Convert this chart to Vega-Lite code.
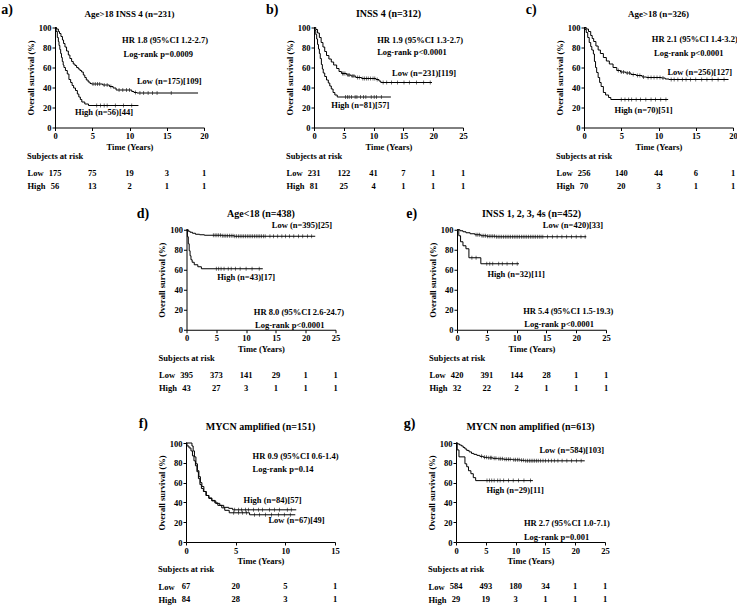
{
"$schema":"https://vega.github.io/schema/vega-lite/v6.json",
"padding":{"left":1,"top":2.5,"right":0,"bottom":0},
"background":"white",
"config":{
 "view":{"stroke":null},
 "axis":{"grid":false,"domainColor":"black","domainWidth":1,"tickColor":"black","tickWidth":1,"tickSize":3,"labelFont":"Liberation Serif","labelFontWeight":"bold","labelFontSize":8.5,"labelColor":"black","labelPadding":1,"labelFlush":false,"labelOverlap":false,"titleFont":"Liberation Serif","titleFontWeight":"bold","titleFontSize":8.5,"titleColor":"black"},
 "axisX":{"titlePadding":2},
 "axisY":{"titlePadding":3},
 "text":{"font":"Liberation Serif","fontWeight":"bold","fontSize":8.5,"color":"black","baseline":"middle"},
 "title":{"font":"Liberation Serif","fontWeight":"bold","fontSize":8.5,"color":"black","anchor":"start","frame":"bounds","offset":6}
},
"datasets":{
"km":[
{"p":"a","g":"L","t":0,"s":100},{"p":"a","g":"L","t":0.2,"s":98.5},{"p":"a","g":"L","t":0.45,"s":96},{"p":"a","g":"L","t":0.6,"s":94},{"p":"a","g":"L","t":0.8,"s":91},{"p":"a","g":"L","t":1.0,"s":87.5},{"p":"a","g":"L","t":1.15,"s":84},{"p":"a","g":"L","t":1.34,"s":80.5},{"p":"a","g":"L","t":1.55,"s":76.5},{"p":"a","g":"L","t":1.79,"s":72.5},{"p":"a","g":"L","t":2.0,"s":69},{"p":"a","g":"L","t":2.23,"s":66},{"p":"a","g":"L","t":2.45,"s":63.5},{"p":"a","g":"L","t":2.68,"s":62},{"p":"a","g":"L","t":2.9,"s":60},{"p":"a","g":"L","t":3.13,"s":58.5},{"p":"a","g":"L","t":3.35,"s":57},{"p":"a","g":"L","t":3.57,"s":55.5},{"p":"a","g":"L","t":3.8,"s":52.5},{"p":"a","g":"L","t":4.0,"s":50},{"p":"a","g":"L","t":4.2,"s":47.5},{"p":"a","g":"L","t":4.45,"s":45.5},{"p":"a","g":"L","t":4.7,"s":44},{"p":"a","g":"L","t":4.9,"s":43.5},{"p":"a","g":"L","t":6.4,"s":42.5},{"p":"a","g":"L","t":7.3,"s":41},{"p":"a","g":"L","t":7.8,"s":39.5},{"p":"a","g":"L","t":8.2,"s":37.5},{"p":"a","g":"L","t":10.3,"s":36},{"p":"a","g":"L","t":10.6,"s":35},{"p":"a","g":"L","t":11.0,"s":34.5},{"p":"a","g":"L","t":19.2,"s":34.5},
{"p":"a","g":"H","t":0,"s":100},{"p":"a","g":"H","t":0.15,"s":96},{"p":"a","g":"H","t":0.31,"s":90},{"p":"a","g":"H","t":0.45,"s":86},{"p":"a","g":"H","t":0.54,"s":82},{"p":"a","g":"H","t":0.65,"s":78},{"p":"a","g":"H","t":0.76,"s":74},{"p":"a","g":"H","t":0.87,"s":70},{"p":"a","g":"H","t":0.98,"s":66},{"p":"a","g":"H","t":1.1,"s":62.5},{"p":"a","g":"H","t":1.2,"s":60},{"p":"a","g":"H","t":1.4,"s":57},{"p":"a","g":"H","t":1.65,"s":53.5},{"p":"a","g":"H","t":1.87,"s":48},{"p":"a","g":"H","t":2.1,"s":45},{"p":"a","g":"H","t":2.3,"s":42},{"p":"a","g":"H","t":2.5,"s":39.5},{"p":"a","g":"H","t":2.75,"s":37},{"p":"a","g":"H","t":3.0,"s":33.5},{"p":"a","g":"H","t":3.2,"s":30.5},{"p":"a","g":"H","t":3.4,"s":28},{"p":"a","g":"H","t":3.6,"s":25.5},{"p":"a","g":"H","t":4.0,"s":23.5},{"p":"a","g":"H","t":4.5,"s":22},{"p":"a","g":"H","t":11.2,"s":22},
{"p":"b","g":"L","t":0,"s":100},{"p":"b","g":"L","t":0.3,"s":98},{"p":"b","g":"L","t":0.6,"s":94.5},{"p":"b","g":"L","t":0.9,"s":90},{"p":"b","g":"L","t":1.2,"s":85},{"p":"b","g":"L","t":1.5,"s":80.5},{"p":"b","g":"L","t":1.8,"s":76},{"p":"b","g":"L","t":2.1,"s":72},{"p":"b","g":"L","t":2.5,"s":68.5},{"p":"b","g":"L","t":2.9,"s":65.5},{"p":"b","g":"L","t":3.3,"s":62.5},{"p":"b","g":"L","t":3.8,"s":59},{"p":"b","g":"L","t":4.2,"s":56},{"p":"b","g":"L","t":4.6,"s":54},{"p":"b","g":"L","t":5.5,"s":52.5},{"p":"b","g":"L","t":6.2,"s":51.5},{"p":"b","g":"L","t":7.0,"s":50},{"p":"b","g":"L","t":8.0,"s":49},{"p":"b","g":"L","t":10.4,"s":48},{"p":"b","g":"L","t":10.9,"s":46.5},{"p":"b","g":"L","t":11.2,"s":45},{"p":"b","g":"L","t":19.8,"s":45},
{"p":"b","g":"H","t":0,"s":100},{"p":"b","g":"H","t":0.15,"s":97},{"p":"b","g":"H","t":0.3,"s":93},{"p":"b","g":"H","t":0.45,"s":88.5},{"p":"b","g":"H","t":0.6,"s":83},{"p":"b","g":"H","t":0.75,"s":78.5},{"p":"b","g":"H","t":0.9,"s":74},{"p":"b","g":"H","t":1.05,"s":69},{"p":"b","g":"H","t":1.24,"s":63},{"p":"b","g":"H","t":1.4,"s":58.5},{"p":"b","g":"H","t":1.55,"s":54.5},{"p":"b","g":"H","t":1.8,"s":51},{"p":"b","g":"H","t":2.1,"s":47.5},{"p":"b","g":"H","t":2.4,"s":44.5},{"p":"b","g":"H","t":2.65,"s":41.5},{"p":"b","g":"H","t":2.9,"s":38.5},{"p":"b","g":"H","t":3.2,"s":35},{"p":"b","g":"H","t":3.5,"s":32.5},{"p":"b","g":"H","t":3.9,"s":30.5},{"p":"b","g":"H","t":12.9,"s":30.5},
{"p":"c","g":"L","t":0,"s":100},{"p":"c","g":"L","t":0.3,"s":98.5},{"p":"c","g":"L","t":0.6,"s":96},{"p":"c","g":"L","t":0.9,"s":92},{"p":"c","g":"L","t":1.1,"s":89},{"p":"c","g":"L","t":1.3,"s":86},{"p":"c","g":"L","t":1.6,"s":81.5},{"p":"c","g":"L","t":1.9,"s":77.5},{"p":"c","g":"L","t":2.2,"s":74},{"p":"c","g":"L","t":2.6,"s":70},{"p":"c","g":"L","t":3.0,"s":66.5},{"p":"c","g":"L","t":3.4,"s":63.5},{"p":"c","g":"L","t":3.9,"s":60},{"p":"c","g":"L","t":4.4,"s":57},{"p":"c","g":"L","t":4.9,"s":55.5},{"p":"c","g":"L","t":5.6,"s":54.5},{"p":"c","g":"L","t":6.3,"s":53},{"p":"c","g":"L","t":7.0,"s":52},{"p":"c","g":"L","t":7.8,"s":50.5},{"p":"c","g":"L","t":8.4,"s":50},{"p":"c","g":"L","t":10.4,"s":49.5},{"p":"c","g":"L","t":10.9,"s":48.5},{"p":"c","g":"L","t":11.4,"s":48},{"p":"c","g":"L","t":19.4,"s":48},
{"p":"c","g":"H","t":0,"s":100},{"p":"c","g":"H","t":0.15,"s":98},{"p":"c","g":"H","t":0.3,"s":95},{"p":"c","g":"H","t":0.5,"s":90},{"p":"c","g":"H","t":0.7,"s":85},{"p":"c","g":"H","t":0.9,"s":81},{"p":"c","g":"H","t":1.05,"s":77.5},{"p":"c","g":"H","t":1.26,"s":73.5},{"p":"c","g":"H","t":1.4,"s":66},{"p":"c","g":"H","t":1.55,"s":60},{"p":"c","g":"H","t":1.7,"s":55},{"p":"c","g":"H","t":1.9,"s":50},{"p":"c","g":"H","t":2.1,"s":45},{"p":"c","g":"H","t":2.3,"s":41},{"p":"c","g":"H","t":2.6,"s":35},{"p":"c","g":"H","t":2.9,"s":32.5},{"p":"c","g":"H","t":3.3,"s":30},{"p":"c","g":"H","t":3.6,"s":28},{"p":"c","g":"H","t":11.3,"s":28},
{"p":"d","g":"L","t":0,"s":100},{"p":"d","g":"L","t":0.3,"s":98.5},{"p":"d","g":"L","t":0.6,"s":97.5},{"p":"d","g":"L","t":1.0,"s":96.5},{"p":"d","g":"L","t":1.5,"s":95.5},{"p":"d","g":"L","t":2.2,"s":95},{"p":"d","g":"L","t":3.0,"s":94.5},{"p":"d","g":"L","t":6.0,"s":94},{"p":"d","g":"L","t":8.0,"s":93.5},{"p":"d","g":"L","t":21.6,"s":93.5},
{"p":"d","g":"H","t":0,"s":100},{"p":"d","g":"H","t":0.15,"s":93},{"p":"d","g":"H","t":0.3,"s":86},{"p":"d","g":"H","t":0.45,"s":79},{"p":"d","g":"H","t":0.6,"s":74},{"p":"d","g":"H","t":0.75,"s":70},{"p":"d","g":"H","t":0.95,"s":67.5},{"p":"d","g":"H","t":1.3,"s":65},{"p":"d","g":"H","t":1.9,"s":63},{"p":"d","g":"H","t":2.5,"s":61},{"p":"d","g":"H","t":12.8,"s":61},
{"p":"e","g":"L","t":0,"s":100},{"p":"e","g":"L","t":0.5,"s":99},{"p":"e","g":"L","t":1.0,"s":98},{"p":"e","g":"L","t":1.5,"s":97},{"p":"e","g":"L","t":2.2,"s":96},{"p":"e","g":"L","t":3.0,"s":95},{"p":"e","g":"L","t":4.0,"s":94},{"p":"e","g":"L","t":5.0,"s":93.5},{"p":"e","g":"L","t":6.5,"s":93},{"p":"e","g":"L","t":21.7,"s":93},
{"p":"e","g":"H","t":0,"s":100},{"p":"e","g":"H","t":0.3,"s":94},{"p":"e","g":"H","t":0.6,"s":88},{"p":"e","g":"H","t":1.0,"s":84},{"p":"e","g":"H","t":1.5,"s":81},{"p":"e","g":"H","t":2.0,"s":72},{"p":"e","g":"H","t":4.0,"s":66},{"p":"e","g":"H","t":10.4,"s":66},
{"p":"f","g":"H","t":0,"s":100},{"p":"f","g":"H","t":0.1,"s":97},{"p":"f","g":"H","t":0.3,"s":95},{"p":"f","g":"H","t":0.5,"s":92},{"p":"f","g":"H","t":0.65,"s":87},{"p":"f","g":"H","t":0.8,"s":82},{"p":"f","g":"H","t":0.95,"s":77},{"p":"f","g":"H","t":1.1,"s":71},{"p":"f","g":"H","t":1.25,"s":64},{"p":"f","g":"H","t":1.4,"s":58},{"p":"f","g":"H","t":1.55,"s":54},{"p":"f","g":"H","t":1.75,"s":51},{"p":"f","g":"H","t":2.0,"s":47},{"p":"f","g":"H","t":2.3,"s":44},{"p":"f","g":"H","t":2.6,"s":41.5},{"p":"f","g":"H","t":3.0,"s":39},{"p":"f","g":"H","t":3.4,"s":37},{"p":"f","g":"H","t":3.8,"s":35},{"p":"f","g":"H","t":4.3,"s":34},{"p":"f","g":"H","t":4.7,"s":32.5},{"p":"f","g":"H","t":11.1,"s":32.5},
{"p":"f","g":"L","t":0,"s":100},{"p":"f","g":"L","t":0.6,"s":97},{"p":"f","g":"L","t":0.72,"s":92},{"p":"f","g":"L","t":0.85,"s":86},{"p":"f","g":"L","t":1.0,"s":79},{"p":"f","g":"L","t":1.15,"s":72},{"p":"f","g":"L","t":1.3,"s":66},{"p":"f","g":"L","t":1.45,"s":60},{"p":"f","g":"L","t":1.6,"s":56},{"p":"f","g":"L","t":1.8,"s":51},{"p":"f","g":"L","t":2.05,"s":47},{"p":"f","g":"L","t":2.3,"s":44.5},{"p":"f","g":"L","t":2.6,"s":42},{"p":"f","g":"L","t":2.9,"s":39.5},{"p":"f","g":"L","t":3.2,"s":37},{"p":"f","g":"L","t":3.6,"s":34.5},{"p":"f","g":"L","t":3.9,"s":32},{"p":"f","g":"L","t":4.35,"s":29.5},{"p":"f","g":"L","t":6.4,"s":27.5},{"p":"f","g":"L","t":11.0,"s":27.5},
{"p":"g","g":"L","t":0,"s":100},{"p":"g","g":"L","t":0.3,"s":99},{"p":"g","g":"L","t":0.6,"s":98},{"p":"g","g":"L","t":0.9,"s":97},{"p":"g","g":"L","t":1.2,"s":95.5},{"p":"g","g":"L","t":1.5,"s":94},{"p":"g","g":"L","t":1.8,"s":92.5},{"p":"g","g":"L","t":2.2,"s":91},{"p":"g","g":"L","t":2.6,"s":89.5},{"p":"g","g":"L","t":3.0,"s":88.5},{"p":"g","g":"L","t":3.5,"s":87.5},{"p":"g","g":"L","t":4.0,"s":86.5},{"p":"g","g":"L","t":4.6,"s":85.5},{"p":"g","g":"L","t":5.3,"s":85},{"p":"g","g":"L","t":6.2,"s":84.5},{"p":"g","g":"L","t":7.0,"s":84},{"p":"g","g":"L","t":8.0,"s":83.5},{"p":"g","g":"L","t":9.5,"s":83},{"p":"g","g":"L","t":10.8,"s":82.5},{"p":"g","g":"L","t":11.5,"s":82},{"p":"g","g":"L","t":21.6,"s":82},
{"p":"g","g":"H","t":0,"s":100},{"p":"g","g":"H","t":0.2,"s":93},{"p":"g","g":"H","t":0.5,"s":86},{"p":"g","g":"H","t":1.5,"s":79},{"p":"g","g":"H","t":1.8,"s":76},{"p":"g","g":"H","t":2.1,"s":72},{"p":"g","g":"H","t":2.5,"s":69},{"p":"g","g":"H","t":2.9,"s":65},{"p":"g","g":"H","t":3.3,"s":62},{"p":"g","g":"H","t":12.9,"s":62}
],
"cens":[
{"p":"a","t":5.1,"s":43.5},{"p":"a","t":5.4,"s":43.5},{"p":"a","t":5.7,"s":43.5},{"p":"a","t":6.0,"s":43.5},{"p":"a","t":6.6,"s":42.5},{"p":"a","t":7.0,"s":42.5},{"p":"a","t":7.5,"s":41},{"p":"a","t":8.6,"s":37.5},{"p":"a","t":9.1,"s":37.5},{"p":"a","t":9.6,"s":37.5},{"p":"a","t":10.0,"s":37.5},{"p":"a","t":10.8,"s":35},{"p":"a","t":11.4,"s":34.5},{"p":"a","t":11.9,"s":34.5},{"p":"a","t":12.5,"s":34.5},{"p":"a","t":13.1,"s":34.5},{"p":"a","t":13.7,"s":34.5},{"p":"a","t":15.6,"s":34.5},
{"p":"a","t":5.6,"s":22},{"p":"a","t":6.1,"s":22},{"p":"a","t":6.6,"s":22},{"p":"a","t":7.0,"s":22},{"p":"a","t":8.1,"s":22},{"p":"a","t":9.2,"s":22},{"p":"a","t":10.3,"s":22},
{"p":"b","t":4.8,"s":54},{"p":"b","t":5.0,"s":54},{"p":"b","t":5.2,"s":54},{"p":"b","t":5.7,"s":52.5},{"p":"b","t":5.9,"s":52.5},{"p":"b","t":6.4,"s":51.5},{"p":"b","t":6.7,"s":51.5},{"p":"b","t":7.3,"s":50},{"p":"b","t":7.6,"s":50},{"p":"b","t":8.2,"s":49},{"p":"b","t":8.5,"s":49},{"p":"b","t":8.8,"s":49},{"p":"b","t":9.1,"s":49},{"p":"b","t":9.5,"s":49},{"p":"b","t":9.9,"s":49},{"p":"b","t":10.2,"s":49},{"p":"b","t":10.6,"s":48},{"p":"b","t":11.6,"s":45},{"p":"b","t":12.2,"s":45},{"p":"b","t":13.0,"s":45},{"p":"b","t":14.0,"s":45},{"p":"b","t":15.1,"s":45},{"p":"b","t":16.0,"s":45},{"p":"b","t":17.2,"s":45},{"p":"b","t":18.4,"s":45},{"p":"b","t":19.5,"s":45},
{"p":"b","t":5.3,"s":30.5},{"p":"b","t":5.6,"s":30.5},{"p":"b","t":5.9,"s":30.5},{"p":"b","t":6.3,"s":30.5},{"p":"b","t":6.9,"s":30.5},{"p":"b","t":7.2,"s":30.5},{"p":"b","t":7.8,"s":30.5},{"p":"b","t":8.3,"s":30.5},{"p":"b","t":8.7,"s":30.5},{"p":"b","t":9.6,"s":30.5},{"p":"b","t":10.1,"s":30.5},{"p":"b","t":10.5,"s":30.5},{"p":"b","t":11.3,"s":30.5},
{"p":"c","t":4.6,"s":57},{"p":"c","t":5.0,"s":55.5},{"p":"c","t":5.3,"s":55.5},{"p":"c","t":5.8,"s":54.5},{"p":"c","t":6.1,"s":54.5},{"p":"c","t":6.6,"s":53},{"p":"c","t":7.2,"s":52},{"p":"c","t":7.5,"s":52},{"p":"c","t":8.0,"s":50.5},{"p":"c","t":8.6,"s":50},{"p":"c","t":9.0,"s":50},{"p":"c","t":9.4,"s":50},{"p":"c","t":9.8,"s":50},{"p":"c","t":10.2,"s":50},{"p":"c","t":10.6,"s":49.5},{"p":"c","t":11.7,"s":48},{"p":"c","t":12.1,"s":48},{"p":"c","t":12.6,"s":48},{"p":"c","t":13.2,"s":48},{"p":"c","t":13.7,"s":48},{"p":"c","t":14.3,"s":48},{"p":"c","t":15.0,"s":48},{"p":"c","t":15.8,"s":48},{"p":"c","t":16.5,"s":48},{"p":"c","t":17.2,"s":48},{"p":"c","t":18.0,"s":48},{"p":"c","t":18.8,"s":48},
{"p":"c","t":5.0,"s":28},{"p":"c","t":5.5,"s":28},{"p":"c","t":6.0,"s":28},{"p":"c","t":6.4,"s":28},{"p":"c","t":7.0,"s":28},{"p":"c","t":7.6,"s":28},{"p":"c","t":8.3,"s":28},{"p":"c","t":9.0,"s":28},{"p":"c","t":9.6,"s":28},{"p":"c","t":10.3,"s":28},{"p":"c","t":11.0,"s":28},
{"p":"d","t":4.5,"s":94.5},{"p":"d","t":4.8,"s":94.5},{"p":"d","t":5.1,"s":94.5},{"p":"d","t":5.4,"s":94.5},{"p":"d","t":5.7,"s":94.5},{"p":"d","t":6.0,"s":94},{"p":"d","t":6.3,"s":94},{"p":"d","t":6.6,"s":94},{"p":"d","t":6.9,"s":94},{"p":"d","t":7.2,"s":94},{"p":"d","t":7.5,"s":94},{"p":"d","t":7.8,"s":94},{"p":"d","t":8.1,"s":93.5},{"p":"d","t":8.4,"s":93.5},{"p":"d","t":8.7,"s":93.5},{"p":"d","t":9.0,"s":93.5},{"p":"d","t":9.3,"s":93.5},{"p":"d","t":9.6,"s":93.5},{"p":"d","t":9.9,"s":93.5},{"p":"d","t":10.2,"s":93.5},{"p":"d","t":10.5,"s":93.5},{"p":"d","t":10.8,"s":93.5},{"p":"d","t":11.1,"s":93.5},{"p":"d","t":11.4,"s":93.5},{"p":"d","t":11.7,"s":93.5},{"p":"d","t":12.0,"s":93.5},{"p":"d","t":12.3,"s":93.5},{"p":"d","t":12.6,"s":93.5},{"p":"d","t":12.9,"s":93.5},{"p":"d","t":13.2,"s":93.5},{"p":"d","t":14.0,"s":93.5},{"p":"d","t":14.6,"s":93.5},{"p":"d","t":15.3,"s":93.5},{"p":"d","t":16.0,"s":93.5},{"p":"d","t":16.6,"s":93.5},{"p":"d","t":17.3,"s":93.5},{"p":"d","t":18.0,"s":93.5},{"p":"d","t":18.8,"s":93.5},{"p":"d","t":19.5,"s":93.5},{"p":"d","t":20.3,"s":93.5},{"p":"d","t":21.0,"s":93.5},
{"p":"d","t":5.0,"s":61},{"p":"d","t":5.4,"s":61},{"p":"d","t":5.8,"s":61},{"p":"d","t":6.3,"s":61},{"p":"d","t":7.0,"s":61},{"p":"d","t":7.5,"s":61},{"p":"d","t":8.2,"s":61},{"p":"d","t":9.0,"s":61},{"p":"d","t":10.0,"s":61},{"p":"d","t":11.0,"s":61},{"p":"d","t":12.2,"s":61},
{"p":"e","t":3.2,"s":95},{"p":"e","t":3.5,"s":95},{"p":"e","t":3.8,"s":95},{"p":"e","t":4.2,"s":94},{"p":"e","t":4.5,"s":94},{"p":"e","t":4.8,"s":94},{"p":"e","t":5.1,"s":93.5},{"p":"e","t":5.4,"s":93.5},{"p":"e","t":5.7,"s":93.5},{"p":"e","t":6.0,"s":93.5},{"p":"e","t":6.3,"s":93.5},{"p":"e","t":6.6,"s":93},{"p":"e","t":6.9,"s":93},{"p":"e","t":7.2,"s":93},{"p":"e","t":7.5,"s":93},{"p":"e","t":7.8,"s":93},{"p":"e","t":8.1,"s":93},{"p":"e","t":8.4,"s":93},{"p":"e","t":8.7,"s":93},{"p":"e","t":9.0,"s":93},{"p":"e","t":9.3,"s":93},{"p":"e","t":9.6,"s":93},{"p":"e","t":9.9,"s":93},{"p":"e","t":10.2,"s":93},{"p":"e","t":10.5,"s":93},{"p":"e","t":10.8,"s":93},{"p":"e","t":11.1,"s":93},{"p":"e","t":11.4,"s":93},{"p":"e","t":11.7,"s":93},{"p":"e","t":12.0,"s":93},{"p":"e","t":12.3,"s":93},{"p":"e","t":12.6,"s":93},{"p":"e","t":12.9,"s":93},{"p":"e","t":13.2,"s":93},{"p":"e","t":13.5,"s":93},{"p":"e","t":13.8,"s":93},{"p":"e","t":14.1,"s":93},{"p":"e","t":14.4,"s":93},{"p":"e","t":15.2,"s":93},{"p":"e","t":16.0,"s":93},{"p":"e","t":16.8,"s":93},{"p":"e","t":17.6,"s":93},{"p":"e","t":18.4,"s":93},{"p":"e","t":19.2,"s":93},{"p":"e","t":20.0,"s":93},{"p":"e","t":20.8,"s":93},{"p":"e","t":21.5,"s":93},
{"p":"e","t":2.5,"s":72},{"p":"e","t":3.2,"s":72},{"p":"e","t":5.0,"s":66},{"p":"e","t":5.5,"s":66},{"p":"e","t":6.0,"s":66},{"p":"e","t":7.0,"s":66},{"p":"e","t":7.6,"s":66},{"p":"e","t":8.4,"s":66},{"p":"e","t":9.3,"s":66},{"p":"e","t":10.1,"s":66},
{"p":"f","t":4.9,"s":32.5},{"p":"f","t":5.3,"s":32.5},{"p":"f","t":5.6,"s":32.5},{"p":"f","t":6.0,"s":32.5},{"p":"f","t":6.3,"s":32.5},{"p":"f","t":6.8,"s":32.5},{"p":"f","t":7.3,"s":32.5},{"p":"f","t":7.7,"s":32.5},{"p":"f","t":8.4,"s":32.5},{"p":"f","t":8.9,"s":32.5},{"p":"f","t":9.4,"s":32.5},{"p":"f","t":10.2,"s":32.5},{"p":"f","t":10.6,"s":32.5},
{"p":"f","t":4.8,"s":29.5},{"p":"f","t":5.3,"s":29.5},{"p":"f","t":5.7,"s":29.5},{"p":"f","t":6.1,"s":29.5},{"p":"f","t":6.9,"s":27.5},{"p":"f","t":7.4,"s":27.5},{"p":"f","t":8.0,"s":27.5},{"p":"f","t":8.6,"s":27.5},{"p":"f","t":9.3,"s":27.5},{"p":"f","t":9.9,"s":27.5},{"p":"f","t":10.5,"s":27.5},
{"p":"g","t":4.3,"s":86.5},{"p":"g","t":4.8,"s":85.5},{"p":"g","t":5.1,"s":85.5},{"p":"g","t":5.5,"s":85},{"p":"g","t":5.8,"s":85},{"p":"g","t":6.0,"s":85},{"p":"g","t":6.4,"s":84.5},{"p":"g","t":6.7,"s":84.5},{"p":"g","t":7.2,"s":84},{"p":"g","t":7.5,"s":84},{"p":"g","t":7.8,"s":84},{"p":"g","t":8.2,"s":83.5},{"p":"g","t":8.5,"s":83.5},{"p":"g","t":8.8,"s":83.5},{"p":"g","t":9.1,"s":83.5},{"p":"g","t":9.7,"s":83},{"p":"g","t":10.0,"s":83},{"p":"g","t":10.3,"s":83},{"p":"g","t":10.6,"s":83},{"p":"g","t":11.0,"s":82.5},{"p":"g","t":11.3,"s":82.5},{"p":"g","t":11.7,"s":82},{"p":"g","t":12.0,"s":82},{"p":"g","t":12.3,"s":82},{"p":"g","t":12.6,"s":82},{"p":"g","t":12.9,"s":82},{"p":"g","t":13.2,"s":82},{"p":"g","t":13.5,"s":82},{"p":"g","t":13.8,"s":82},{"p":"g","t":14.2,"s":82},{"p":"g","t":14.6,"s":82},{"p":"g","t":15.0,"s":82},{"p":"g","t":15.5,"s":82},{"p":"g","t":16.0,"s":82},{"p":"g","t":16.5,"s":82},{"p":"g","t":17.1,"s":82},{"p":"g","t":17.8,"s":82},{"p":"g","t":18.6,"s":82},{"p":"g","t":19.4,"s":82},{"p":"g","t":20.2,"s":82},{"p":"g","t":21.0,"s":82},
{"p":"g","t":5.2,"s":62},{"p":"g","t":5.6,"s":62},{"p":"g","t":6.0,"s":62},{"p":"g","t":6.4,"s":62},{"p":"g","t":7.0,"s":62},{"p":"g","t":7.4,"s":62},{"p":"g","t":8.0,"s":62},{"p":"g","t":8.8,"s":62},{"p":"g","t":9.6,"s":62},{"p":"g","t":10.5,"s":62},{"p":"g","t":11.4,"s":62},{"p":"g","t":12.5,"s":62}
],
"risk":[
{"p":"a","g":"Low","t":0,"n":"175"},{"p":"a","g":"Low","t":5,"n":"75"},{"p":"a","g":"Low","t":10,"n":"19"},{"p":"a","g":"Low","t":15,"n":"3"},{"p":"a","g":"Low","t":20,"n":"1"},
{"p":"a","g":"High","t":0,"n":"56"},{"p":"a","g":"High","t":5,"n":"13"},{"p":"a","g":"High","t":10,"n":"2"},{"p":"a","g":"High","t":15,"n":"1"},{"p":"a","g":"High","t":20,"n":"1"},
{"p":"b","g":"Low","t":0,"n":"231"},{"p":"b","g":"Low","t":5,"n":"122"},{"p":"b","g":"Low","t":10,"n":"41"},{"p":"b","g":"Low","t":15,"n":"7"},{"p":"b","g":"Low","t":20,"n":"1"},{"p":"b","g":"Low","t":25,"n":"1"},
{"p":"b","g":"High","t":0,"n":"81"},{"p":"b","g":"High","t":5,"n":"25"},{"p":"b","g":"High","t":10,"n":"4"},{"p":"b","g":"High","t":15,"n":"1"},{"p":"b","g":"High","t":20,"n":"1"},{"p":"b","g":"High","t":25,"n":"1"},
{"p":"c","g":"Low","t":0,"n":"256"},{"p":"c","g":"Low","t":5,"n":"140"},{"p":"c","g":"Low","t":10,"n":"44"},{"p":"c","g":"Low","t":15,"n":"6"},{"p":"c","g":"Low","t":20,"n":"1"},
{"p":"c","g":"High","t":0,"n":"70"},{"p":"c","g":"High","t":5,"n":"20"},{"p":"c","g":"High","t":10,"n":"3"},{"p":"c","g":"High","t":15,"n":"1"},{"p":"c","g":"High","t":20,"n":"1"},
{"p":"d","g":"Low","t":0,"n":"395"},{"p":"d","g":"Low","t":5,"n":"373"},{"p":"d","g":"Low","t":10,"n":"141"},{"p":"d","g":"Low","t":15,"n":"29"},{"p":"d","g":"Low","t":20,"n":"1"},{"p":"d","g":"Low","t":25,"n":"1"},
{"p":"d","g":"High","t":0,"n":"43"},{"p":"d","g":"High","t":5,"n":"27"},{"p":"d","g":"High","t":10,"n":"3"},{"p":"d","g":"High","t":15,"n":"1"},{"p":"d","g":"High","t":20,"n":"1"},{"p":"d","g":"High","t":25,"n":"1"},
{"p":"e","g":"Low","t":0,"n":"420"},{"p":"e","g":"Low","t":5,"n":"391"},{"p":"e","g":"Low","t":10,"n":"144"},{"p":"e","g":"Low","t":15,"n":"28"},{"p":"e","g":"Low","t":20,"n":"1"},{"p":"e","g":"Low","t":25,"n":"1"},
{"p":"e","g":"High","t":0,"n":"32"},{"p":"e","g":"High","t":5,"n":"22"},{"p":"e","g":"High","t":10,"n":"2"},{"p":"e","g":"High","t":15,"n":"1"},{"p":"e","g":"High","t":20,"n":"1"},{"p":"e","g":"High","t":25,"n":"1"},
{"p":"f","g":"Low","t":0,"n":"67"},{"p":"f","g":"Low","t":5,"n":"20"},{"p":"f","g":"Low","t":10,"n":"5"},{"p":"f","g":"Low","t":15,"n":"1"},
{"p":"f","g":"High","t":0,"n":"84"},{"p":"f","g":"High","t":5,"n":"28"},{"p":"f","g":"High","t":10,"n":"3"},{"p":"f","g":"High","t":15,"n":"1"},
{"p":"g","g":"Low","t":0,"n":"584"},{"p":"g","g":"Low","t":5,"n":"493"},{"p":"g","g":"Low","t":10,"n":"180"},{"p":"g","g":"Low","t":15,"n":"34"},{"p":"g","g":"Low","t":20,"n":"1"},{"p":"g","g":"Low","t":25,"n":"1"},
{"p":"g","g":"High","t":0,"n":"29"},{"p":"g","g":"High","t":5,"n":"19"},{"p":"g","g":"High","t":10,"n":"3"},{"p":"g","g":"High","t":15,"n":"1"},{"p":"g","g":"High","t":20,"n":"1"},{"p":"g","g":"High","t":25,"n":"1"}
]
},
"spacing":14.25,
"center":false,
"vconcat":[
{"hconcat":[
 {"vconcat":[
  {"width":149,"height":100,"layer":[
   {"data":{"name":"km"},"transform":[{"filter":"datum.p=='a'"}],"mark":{"type":"line","interpolate":"step-after","color":"black","strokeWidth":1},"encoding":{"x":{"field":"t","type":"quantitative","scale":{"domain":[0,20],"nice":false},"axis":{"values":[0,5,10,15,20],"title":"Time (Years)"}},"y":{"field":"s","type":"quantitative","scale":{"domain":[0,100],"nice":false},"axis":{"values":[0,20,40,60,80,100],"title":"Overall survival (%)"}},"detail":{"field":"g"}}},
   {"data":{"name":"cens"},"transform":[{"filter":"datum.p=='a'"}],"mark":{"type":"tick","orient":"vertical","size":4,"thickness":0.8,"color":"black"},"encoding":{"x":{"field":"t","type":"quantitative","axis":{"values":[0,5,10,15,20],"title":"Time (Years)"}},"y":{"field":"s","type":"quantitative","axis":{"values":[0,20,40,60,80,100],"title":"Overall survival (%)"}}}},
   {"data":{"values":[{}]},"mark":{"type":"text","text":"a)","fontSize":14,"align":"center"},"encoding":{"x":{"datum":-6.44,"axis":{"values":[0,5,10,15,20],"title":"Time (Years)"}},"y":{"datum":117.5,"axis":{"values":[0,20,40,60,80,100],"title":"Overall survival (%)"}}}},
   {"data":{"values":[{}]},"mark":{"type":"text","text":"Age>18 INSS 4 (n=231)","fontSize":9,"align":"center"},"encoding":{"x":{"datum":10,"axis":{"values":[0,5,10,15,20],"title":"Time (Years)"}},"y":{"datum":113.7,"axis":{"values":[0,20,40,60,80,100],"title":"Overall survival (%)"}}}},
   {"data":{"values":[{}]},"mark":{"type":"text","text":"HR 1.8 (95%CI 1.2-2.7)","align":"left"},"encoding":{"x":{"datum":9.0,"axis":{"values":[0,5,10,15,20],"title":"Time (Years)"}},"y":{"datum":88,"axis":{"values":[0,20,40,60,80,100],"title":"Overall survival (%)"}}}},
   {"data":{"values":[{}]},"mark":{"type":"text","text":"Log-rank p=0.0009","align":"left"},"encoding":{"x":{"datum":9.2,"axis":{"values":[0,5,10,15,20],"title":"Time (Years)"}},"y":{"datum":74,"axis":{"values":[0,20,40,60,80,100],"title":"Overall survival (%)"}}}},
   {"data":{"values":[{}]},"mark":{"type":"text","text":"Low (n=175)[109]","align":"left"},"encoding":{"x":{"datum":11,"axis":{"values":[0,5,10,15,20],"title":"Time (Years)"}},"y":{"datum":47,"axis":{"values":[0,20,40,60,80,100],"title":"Overall survival (%)"}}}},
   {"data":{"values":[{}]},"mark":{"type":"text","text":"High (n=56)[44]","align":"left"},"encoding":{"x":{"datum":2.7,"axis":{"values":[0,5,10,15,20],"title":"Time (Years)"}},"y":{"datum":16,"axis":{"values":[0,20,40,60,80,100],"title":"Overall survival (%)"}}}}
  ]},
  {"width":149,"height":26,"data":{"name":"risk"},"transform":[{"filter":"datum.p=='a'"}],"title":{"text":"Subjects at risk"},"mark":{"type":"text"},"encoding":{"x":{"field":"t","type":"quantitative","scale":{"domain":[0,20],"nice":false},"axis":null},"y":{"field":"g","type":"nominal","sort":["Low","High"],"axis":{"title":null,"domain":false,"ticks":false,"labelAlign":"left","labelPadding":28}},"text":{"field":"n","type":"nominal"}}}
 ],"spacing":38.5,"bounds":"flush"},
 {"vconcat":[
  {"width":149,"height":100,"layer":[
   {"data":{"name":"km"},"transform":[{"filter":"datum.p=='b'"}],"mark":{"type":"line","interpolate":"step-after","color":"black","strokeWidth":1},"encoding":{"x":{"field":"t","type":"quantitative","scale":{"domain":[0,25],"nice":false},"axis":{"values":[0,5,10,15,20,25],"title":"Time (Years)"}},"y":{"field":"s","type":"quantitative","scale":{"domain":[0,100],"nice":false},"axis":{"values":[0,20,40,60,80,100],"title":"Overall survival (%)"}},"detail":{"field":"g"}}},
   {"data":{"name":"cens"},"transform":[{"filter":"datum.p=='b'"}],"mark":{"type":"tick","orient":"vertical","size":4,"thickness":0.8,"color":"black"},"encoding":{"x":{"field":"t","type":"quantitative","axis":{"values":[0,5,10,15,20,25],"title":"Time (Years)"}},"y":{"field":"s","type":"quantitative","axis":{"values":[0,20,40,60,80,100],"title":"Overall survival (%)"}}}},
   {"data":{"values":[{}]},"mark":{"type":"text","text":"b)","fontSize":14,"align":"center"},"encoding":{"x":{"datum":-7.0,"axis":{"values":[0,5,10,15,20,25],"title":"Time (Years)"}},"y":{"datum":117.5,"axis":{"values":[0,20,40,60,80,100],"title":"Overall survival (%)"}}}},
   {"data":{"values":[{}]},"mark":{"type":"text","text":"INSS 4 (n=312)","fontSize":10,"align":"center"},"encoding":{"x":{"datum":12.5,"axis":{"values":[0,5,10,15,20,25],"title":"Time (Years)"}},"y":{"datum":113.7,"axis":{"values":[0,20,40,60,80,100],"title":"Overall survival (%)"}}}},
   {"data":{"values":[{}]},"mark":{"type":"text","text":"HR 1.9 (95%CI 1.3-2.7)","align":"left"},"encoding":{"x":{"datum":10.6,"axis":{"values":[0,5,10,15,20,25],"title":"Time (Years)"}},"y":{"datum":88,"axis":{"values":[0,20,40,60,80,100],"title":"Overall survival (%)"}}}},
   {"data":{"values":[{}]},"mark":{"type":"text","text":"Log-rank p<0.0001","align":"left"},"encoding":{"x":{"datum":10.6,"axis":{"values":[0,5,10,15,20,25],"title":"Time (Years)"}},"y":{"datum":75.5,"axis":{"values":[0,20,40,60,80,100],"title":"Overall survival (%)"}}}},
   {"data":{"values":[{}]},"mark":{"type":"text","text":"Low (n=231)[119]","align":"left"},"encoding":{"x":{"datum":13.1,"axis":{"values":[0,5,10,15,20,25],"title":"Time (Years)"}},"y":{"datum":55,"axis":{"values":[0,20,40,60,80,100],"title":"Overall survival (%)"}}}},
   {"data":{"values":[{}]},"mark":{"type":"text","text":"High (n=81)[57]","align":"left"},"encoding":{"x":{"datum":2.9,"axis":{"values":[0,5,10,15,20,25],"title":"Time (Years)"}},"y":{"datum":23,"axis":{"values":[0,20,40,60,80,100],"title":"Overall survival (%)"}}}}
  ]},
  {"width":149,"height":26,"data":{"name":"risk"},"transform":[{"filter":"datum.p=='b'"}],"title":{"text":"Subjects at risk"},"mark":{"type":"text"},"encoding":{"x":{"field":"t","type":"quantitative","scale":{"domain":[0,25],"nice":false},"axis":null},"y":{"field":"g","type":"nominal","sort":["Low","High"],"axis":{"title":null,"domain":false,"ticks":false,"labelAlign":"left","labelPadding":28}},"text":{"field":"n","type":"nominal"}}}
 ],"spacing":38.5,"bounds":"flush"},
 {"vconcat":[
  {"width":149,"height":100,"layer":[
   {"data":{"name":"km"},"transform":[{"filter":"datum.p=='c'"}],"mark":{"type":"line","interpolate":"step-after","color":"black","strokeWidth":1},"encoding":{"x":{"field":"t","type":"quantitative","scale":{"domain":[0,20],"nice":false},"axis":{"values":[0,5,10,15,20],"title":"Time (Years)"}},"y":{"field":"s","type":"quantitative","scale":{"domain":[0,100],"nice":false},"axis":{"values":[0,20,40,60,80,100],"title":"Overall survival (%)"}},"detail":{"field":"g"}}},
   {"data":{"name":"cens"},"transform":[{"filter":"datum.p=='c'"}],"mark":{"type":"tick","orient":"vertical","size":4,"thickness":0.8,"color":"black"},"encoding":{"x":{"field":"t","type":"quantitative","axis":{"values":[0,5,10,15,20],"title":"Time (Years)"}},"y":{"field":"s","type":"quantitative","axis":{"values":[0,20,40,60,80,100],"title":"Overall survival (%)"}}}},
   {"data":{"values":[{}]},"mark":{"type":"text","text":"c)","fontSize":14,"align":"center"},"encoding":{"x":{"datum":-7.1,"axis":{"values":[0,5,10,15,20],"title":"Time (Years)"}},"y":{"datum":117.5,"axis":{"values":[0,20,40,60,80,100],"title":"Overall survival (%)"}}}},
   {"data":{"values":[{}]},"mark":{"type":"text","text":"Age>18 (n=326)","fontSize":9,"align":"center"},"encoding":{"x":{"datum":10,"axis":{"values":[0,5,10,15,20],"title":"Time (Years)"}},"y":{"datum":113.7,"axis":{"values":[0,20,40,60,80,100],"title":"Overall survival (%)"}}}},
   {"data":{"values":[{}]},"mark":{"type":"text","text":"HR 2.1 (95%CI 1.4-3.2)","align":"left"},"encoding":{"x":{"datum":9.1,"axis":{"values":[0,5,10,15,20],"title":"Time (Years)"}},"y":{"datum":89,"axis":{"values":[0,20,40,60,80,100],"title":"Overall survival (%)"}}}},
   {"data":{"values":[{}]},"mark":{"type":"text","text":"Log-rank p<0.0001","align":"left"},"encoding":{"x":{"datum":9.4,"axis":{"values":[0,5,10,15,20],"title":"Time (Years)"}},"y":{"datum":75,"axis":{"values":[0,20,40,60,80,100],"title":"Overall survival (%)"}}}},
   {"data":{"values":[{}]},"mark":{"type":"text","text":"Low (n=256)[127]","align":"left"},"encoding":{"x":{"datum":11.2,"axis":{"values":[0,5,10,15,20],"title":"Time (Years)"}},"y":{"datum":56,"axis":{"values":[0,20,40,60,80,100],"title":"Overall survival (%)"}}}},
   {"data":{"values":[{}]},"mark":{"type":"text","text":"High (n=70)[51]","align":"left"},"encoding":{"x":{"datum":4.1,"axis":{"values":[0,5,10,15,20],"title":"Time (Years)"}},"y":{"datum":17.7,"axis":{"values":[0,20,40,60,80,100],"title":"Overall survival (%)"}}}}
  ]},
  {"width":149,"height":26,"data":{"name":"risk"},"transform":[{"filter":"datum.p=='c'"}],"title":{"text":"Subjects at risk"},"mark":{"type":"text"},"encoding":{"x":{"field":"t","type":"quantitative","scale":{"domain":[0,20],"nice":false},"axis":null},"y":{"field":"g","type":"nominal","sort":["Low","High"],"axis":{"title":null,"domain":false,"ticks":false,"labelAlign":"left","labelPadding":28}},"text":{"field":"n","type":"nominal"}}}
 ],"spacing":38.5,"bounds":"flush"}
],"spacing":57},
{"vconcat":[
 {"hconcat":[
  {"width":20,"height":1,"data":{"values":[]},"mark":"point","encoding":{}},
  {"vconcat":[
   {"width":149,"height":100,"layer":[
    {"data":{"name":"km"},"transform":[{"filter":"datum.p=='d'"}],"mark":{"type":"line","interpolate":"step-after","color":"black","strokeWidth":1},"encoding":{"x":{"field":"t","type":"quantitative","scale":{"domain":[0,25],"nice":false},"axis":{"values":[0,5,10,15,20,25],"title":"Time (Years)"}},"y":{"field":"s","type":"quantitative","scale":{"domain":[0,100],"nice":false},"axis":{"values":[0,20,40,60,80,100],"title":"Overall survival (%)"}},"detail":{"field":"g"}}},
    {"data":{"name":"cens"},"transform":[{"filter":"datum.p=='d'"}],"mark":{"type":"tick","orient":"vertical","size":4,"thickness":0.8,"color":"black"},"encoding":{"x":{"field":"t","type":"quantitative","axis":{"values":[0,5,10,15,20,25],"title":"Time (Years)"}},"y":{"field":"s","type":"quantitative","axis":{"values":[0,20,40,60,80,100],"title":"Overall survival (%)"}}}},
    {"data":{"values":[{}]},"mark":{"type":"text","text":"d)","fontSize":14,"align":"center"},"encoding":{"x":{"datum":-7.3,"axis":{"values":[0,5,10,15,20,25],"title":"Time (Years)"}},"y":{"datum":115.5,"axis":{"values":[0,20,40,60,80,100],"title":"Overall survival (%)"}}}},
    {"data":{"values":[{}]},"mark":{"type":"text","text":"Age<18 (n=438)","fontSize":10,"align":"center"},"encoding":{"x":{"datum":12.5,"axis":{"values":[0,5,10,15,20,25],"title":"Time (Years)"}},"y":{"datum":115.5,"axis":{"values":[0,20,40,60,80,100],"title":"Overall survival (%)"}}}},
    {"data":{"values":[{}]},"mark":{"type":"text","text":"Low (n=395)[25]","align":"left"},"encoding":{"x":{"datum":14.3,"axis":{"values":[0,5,10,15,20,25],"title":"Time (Years)"}},"y":{"datum":104.5,"axis":{"values":[0,20,40,60,80,100],"title":"Overall survival (%)"}}}},
    {"data":{"values":[{}]},"mark":{"type":"text","text":"High (n=43)[17]","align":"left"},"encoding":{"x":{"datum":5.15,"axis":{"values":[0,5,10,15,20,25],"title":"Time (Years)"}},"y":{"datum":53,"axis":{"values":[0,20,40,60,80,100],"title":"Overall survival (%)"}}}},
    {"data":{"values":[{}]},"mark":{"type":"text","text":"HR 8.0 (95%CI 2.6-24.7)","align":"left"},"encoding":{"x":{"datum":11.3,"axis":{"values":[0,5,10,15,20,25],"title":"Time (Years)"}},"y":{"datum":17.3,"axis":{"values":[0,20,40,60,80,100],"title":"Overall survival (%)"}}}},
    {"data":{"values":[{}]},"mark":{"type":"text","text":"Log-rank p<0.0001","align":"left"},"encoding":{"x":{"datum":11.5,"axis":{"values":[0,5,10,15,20,25],"title":"Time (Years)"}},"y":{"datum":5,"axis":{"values":[0,20,40,60,80,100],"title":"Overall survival (%)"}}}}
   ]},
   {"width":149,"height":26,"data":{"name":"risk"},"transform":[{"filter":"datum.p=='d'"}],"title":{"text":"Subjects at risk"},"mark":{"type":"text"},"encoding":{"x":{"field":"t","type":"quantitative","scale":{"domain":[0,25],"nice":false},"axis":null},"y":{"field":"g","type":"nominal","sort":["Low","High"],"axis":{"title":null,"domain":false,"ticks":false,"labelAlign":"left","labelPadding":28}},"text":{"field":"n","type":"nominal"}}}
  ],"spacing":38.5,"bounds":"flush"},
  {"vconcat":[
   {"width":149,"height":100,"layer":[
    {"data":{"name":"km"},"transform":[{"filter":"datum.p=='e'"}],"mark":{"type":"line","interpolate":"step-after","color":"black","strokeWidth":1},"encoding":{"x":{"field":"t","type":"quantitative","scale":{"domain":[0,25],"nice":false},"axis":{"values":[0,5,10,15,20,25],"title":"Time (Years)"}},"y":{"field":"s","type":"quantitative","scale":{"domain":[0,100],"nice":false},"axis":{"values":[0,20,40,60,80,100],"title":"Overall survival (%)"}},"detail":{"field":"g"}}},
    {"data":{"name":"cens"},"transform":[{"filter":"datum.p=='e'"}],"mark":{"type":"tick","orient":"vertical","size":4,"thickness":0.8,"color":"black"},"encoding":{"x":{"field":"t","type":"quantitative","axis":{"values":[0,5,10,15,20,25],"title":"Time (Years)"}},"y":{"field":"s","type":"quantitative","axis":{"values":[0,20,40,60,80,100],"title":"Overall survival (%)"}}}},
    {"data":{"values":[{}]},"mark":{"type":"text","text":"e)","fontSize":14,"align":"center"},"encoding":{"x":{"datum":-7.6,"axis":{"values":[0,5,10,15,20,25],"title":"Time (Years)"}},"y":{"datum":115.5,"axis":{"values":[0,20,40,60,80,100],"title":"Overall survival (%)"}}}},
    {"data":{"values":[{}]},"mark":{"type":"text","text":"INSS 1, 2, 3, 4s (n=452)","fontSize":10,"align":"center"},"encoding":{"x":{"datum":12.5,"axis":{"values":[0,5,10,15,20,25],"title":"Time (Years)"}},"y":{"datum":115.5,"axis":{"values":[0,20,40,60,80,100],"title":"Overall survival (%)"}}}},
    {"data":{"values":[{}]},"mark":{"type":"text","text":"Low (n=420)[33]","align":"left"},"encoding":{"x":{"datum":14.4,"axis":{"values":[0,5,10,15,20,25],"title":"Time (Years)"}},"y":{"datum":104.5,"axis":{"values":[0,20,40,60,80,100],"title":"Overall survival (%)"}}}},
    {"data":{"values":[{}]},"mark":{"type":"text","text":"High (n=32)[11]","align":"left"},"encoding":{"x":{"datum":5.1,"axis":{"values":[0,5,10,15,20,25],"title":"Time (Years)"}},"y":{"datum":56,"axis":{"values":[0,20,40,60,80,100],"title":"Overall survival (%)"}}}},
    {"data":{"values":[{}]},"mark":{"type":"text","text":"HR 5.4 (95%CI 1.5-19.3)","align":"left"},"encoding":{"x":{"datum":11.1,"axis":{"values":[0,5,10,15,20,25],"title":"Time (Years)"}},"y":{"datum":18.5,"axis":{"values":[0,20,40,60,80,100],"title":"Overall survival (%)"}}}},
    {"data":{"values":[{}]},"mark":{"type":"text","text":"Log-rank p<0.0001","align":"left"},"encoding":{"x":{"datum":11.3,"axis":{"values":[0,5,10,15,20,25],"title":"Time (Years)"}},"y":{"datum":5.5,"axis":{"values":[0,20,40,60,80,100],"title":"Overall survival (%)"}}}}
   ]},
   {"width":149,"height":26,"data":{"name":"risk"},"transform":[{"filter":"datum.p=='e'"}],"title":{"text":"Subjects at risk"},"mark":{"type":"text"},"encoding":{"x":{"field":"t","type":"quantitative","scale":{"domain":[0,25],"nice":false},"axis":null},"y":{"field":"g","type":"nominal","sort":["Low","High"],"axis":{"title":null,"domain":false,"ticks":false,"labelAlign":"left","labelPadding":28}},"text":{"field":"n","type":"nominal"}}}
  ],"spacing":38.5,"bounds":"flush"}
 ],"spacing":61.5},
 {"hconcat":[
  {"width":20,"height":1,"data":{"values":[]},"mark":"point","encoding":{}},
  {"vconcat":[
   {"width":149,"height":99,"layer":[
    {"data":{"name":"km"},"transform":[{"filter":"datum.p=='f'"}],"mark":{"type":"line","interpolate":"step-after","color":"black","strokeWidth":1},"encoding":{"x":{"field":"t","type":"quantitative","scale":{"domain":[0,15],"nice":false},"axis":{"values":[0,5,10,15],"title":"Time (Years)"}},"y":{"field":"s","type":"quantitative","scale":{"domain":[0,100],"nice":false},"axis":{"values":[0,20,40,60,80,100],"title":"Overall survival (%)"}},"detail":{"field":"g"}}},
    {"data":{"name":"cens"},"transform":[{"filter":"datum.p=='f'"}],"mark":{"type":"tick","orient":"vertical","size":4,"thickness":0.8,"color":"black"},"encoding":{"x":{"field":"t","type":"quantitative","axis":{"values":[0,5,10,15],"title":"Time (Years)"}},"y":{"field":"s","type":"quantitative","axis":{"values":[0,20,40,60,80,100],"title":"Overall survival (%)"}}}},
    {"data":{"values":[{}]},"mark":{"type":"text","text":"f)","fontSize":14,"align":"center"},"encoding":{"x":{"datum":-4.3,"axis":{"values":[0,5,10,15],"title":"Time (Years)"}},"y":{"datum":118.7,"axis":{"values":[0,20,40,60,80,100],"title":"Overall survival (%)"}}}},
    {"data":{"values":[{}]},"mark":{"type":"text","text":"MYCN amplified (n=151)","fontSize":10,"align":"center"},"encoding":{"x":{"datum":7.5,"axis":{"values":[0,5,10,15],"title":"Time (Years)"}},"y":{"datum":116,"axis":{"values":[0,20,40,60,80,100],"title":"Overall survival (%)"}}}},
    {"data":{"values":[{}]},"mark":{"type":"text","text":"HR 0.9 (95%CI 0.6-1.4)","align":"left"},"encoding":{"x":{"datum":6.7,"axis":{"values":[0,5,10,15],"title":"Time (Years)"}},"y":{"datum":86.5,"axis":{"values":[0,20,40,60,80,100],"title":"Overall survival (%)"}}}},
    {"data":{"values":[{}]},"mark":{"type":"text","text":"Log-rank p=0.14","align":"left"},"encoding":{"x":{"datum":6.7,"axis":{"values":[0,5,10,15],"title":"Time (Years)"}},"y":{"datum":74,"axis":{"values":[0,20,40,60,80,100],"title":"Overall survival (%)"}}}},
    {"data":{"values":[{}]},"mark":{"type":"text","text":"High (n=84)[57]","align":"left"},"encoding":{"x":{"datum":5.8,"axis":{"values":[0,5,10,15],"title":"Time (Years)"}},"y":{"datum":42,"axis":{"values":[0,20,40,60,80,100],"title":"Overall survival (%)"}}}},
    {"data":{"values":[{}]},"mark":{"type":"text","text":"Low (n=67)[49]","align":"left"},"encoding":{"x":{"datum":8.3,"axis":{"values":[0,5,10,15],"title":"Time (Years)"}},"y":{"datum":22.3,"axis":{"values":[0,20,40,60,80,100],"title":"Overall survival (%)"}}}}
   ]},
   {"width":149,"height":26,"data":{"name":"risk"},"transform":[{"filter":"datum.p=='f'"}],"title":{"text":"Subjects at risk"},"mark":{"type":"text"},"encoding":{"x":{"field":"t","type":"quantitative","scale":{"domain":[0,15],"nice":false},"axis":null},"y":{"field":"g","type":"nominal","sort":["Low","High"],"axis":{"title":null,"domain":false,"ticks":false,"labelAlign":"left","labelPadding":28}},"text":{"field":"n","type":"nominal"}}}
  ],"spacing":37.5,"bounds":"flush"},
  {"vconcat":[
   {"width":149,"height":99,"layer":[
    {"data":{"name":"km"},"transform":[{"filter":"datum.p=='g'"}],"mark":{"type":"line","interpolate":"step-after","color":"black","strokeWidth":1},"encoding":{"x":{"field":"t","type":"quantitative","scale":{"domain":[0,25],"nice":false},"axis":{"values":[0,5,10,15,20,25],"title":"Time (Years)"}},"y":{"field":"s","type":"quantitative","scale":{"domain":[0,100],"nice":false},"axis":{"values":[0,20,40,60,80,100],"title":"Overall survival (%)"}},"detail":{"field":"g"}}},
    {"data":{"name":"cens"},"transform":[{"filter":"datum.p=='g'"}],"mark":{"type":"tick","orient":"vertical","size":4,"thickness":0.8,"color":"black"},"encoding":{"x":{"field":"t","type":"quantitative","axis":{"values":[0,5,10,15,20,25],"title":"Time (Years)"}},"y":{"field":"s","type":"quantitative","axis":{"values":[0,20,40,60,80,100],"title":"Overall survival (%)"}}}},
    {"data":{"values":[{}]},"mark":{"type":"text","text":"g)","fontSize":14,"align":"center"},"encoding":{"x":{"datum":-7.8,"axis":{"values":[0,5,10,15,20,25],"title":"Time (Years)"}},"y":{"datum":118.7,"axis":{"values":[0,20,40,60,80,100],"title":"Overall survival (%)"}}}},
    {"data":{"values":[{}]},"mark":{"type":"text","text":"MYCN non amplified (n=613)","fontSize":10,"align":"center"},"encoding":{"x":{"datum":12.5,"axis":{"values":[0,5,10,15,20,25],"title":"Time (Years)"}},"y":{"datum":116,"axis":{"values":[0,20,40,60,80,100],"title":"Overall survival (%)"}}}},
    {"data":{"values":[{}]},"mark":{"type":"text","text":"Low (n=584)[103]","align":"left"},"encoding":{"x":{"datum":14.0,"axis":{"values":[0,5,10,15,20,25],"title":"Time (Years)"}},"y":{"datum":92.6,"axis":{"values":[0,20,40,60,80,100],"title":"Overall survival (%)"}}}},
    {"data":{"values":[{}]},"mark":{"type":"text","text":"High (n=29)[11]","align":"left"},"encoding":{"x":{"datum":5.1,"axis":{"values":[0,5,10,15,20,25],"title":"Time (Years)"}},"y":{"datum":52.7,"axis":{"values":[0,20,40,60,80,100],"title":"Overall survival (%)"}}}},
    {"data":{"values":[{}]},"mark":{"type":"text","text":"HR 2.7 (95%CI 1.0-7.1)","align":"left"},"encoding":{"x":{"datum":11.4,"axis":{"values":[0,5,10,15,20,25],"title":"Time (Years)"}},"y":{"datum":18.9,"axis":{"values":[0,20,40,60,80,100],"title":"Overall survival (%)"}}}},
    {"data":{"values":[{}]},"mark":{"type":"text","text":"Log-rank p=0.001","align":"left"},"encoding":{"x":{"datum":11.4,"axis":{"values":[0,5,10,15,20,25],"title":"Time (Years)"}},"y":{"datum":5.4,"axis":{"values":[0,20,40,60,80,100],"title":"Overall survival (%)"}}}}
   ]},
   {"width":149,"height":26,"data":{"name":"risk"},"transform":[{"filter":"datum.p=='g'"}],"title":{"text":"Subjects at risk"},"mark":{"type":"text"},"encoding":{"x":{"field":"t","type":"quantitative","scale":{"domain":[0,25],"nice":false},"axis":null},"y":{"field":"g","type":"nominal","sort":["Low","High"],"axis":{"title":null,"domain":false,"ticks":false,"labelAlign":"left","labelPadding":28}},"text":{"field":"n","type":"nominal"}}}
  ],"spacing":37.5,"bounds":"flush"}
 ],"spacing":63}
],"spacing":22.25,"center":false}
]
}
